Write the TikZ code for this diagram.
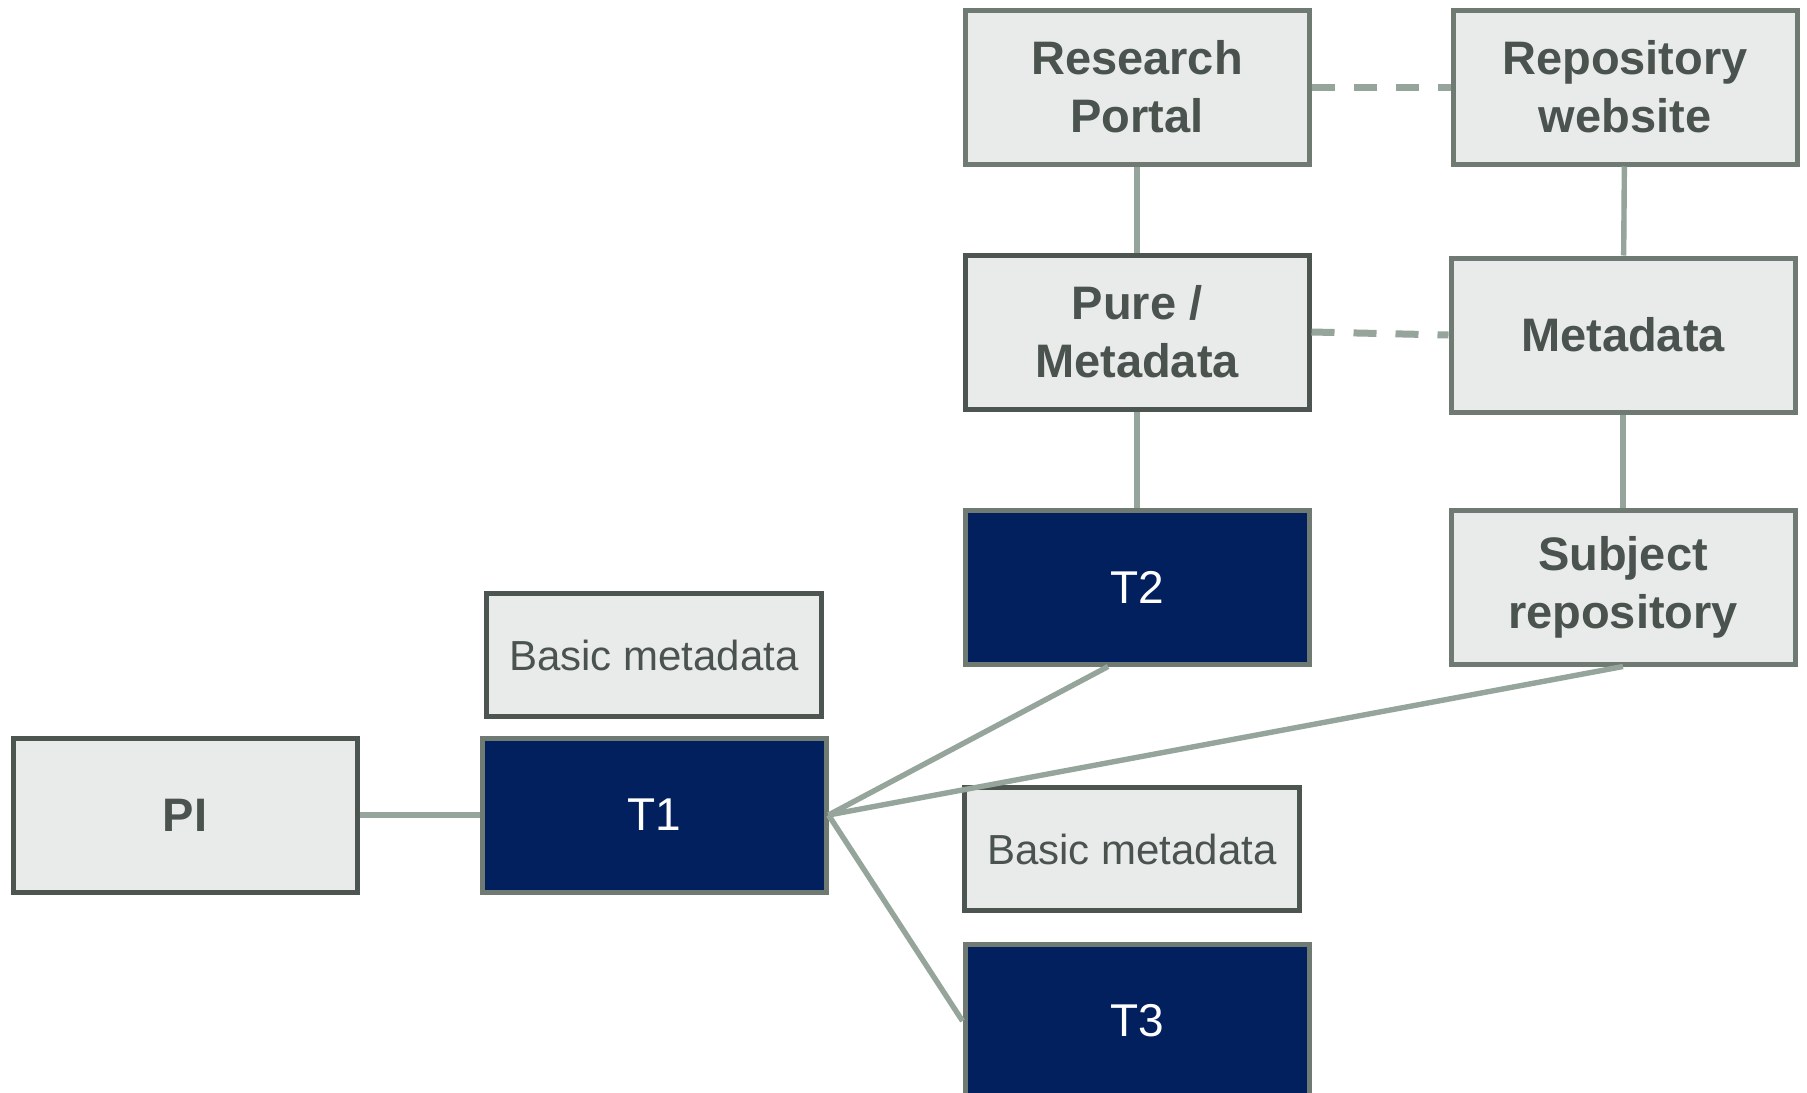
\documentclass[tikz,border=0pt]{standalone}
\usepackage{fontspec}
\setmainfont{Liberation Sans}
\usepackage{xcolor}
\usetikzlibrary{positioning}

\definecolor{boxfill}{HTML}{E9EBEA}
\definecolor{boxline}{HTML}{6E7A72}
\definecolor{boxdark}{HTML}{4C5550}
\definecolor{navy}{HTML}{02205E}
\definecolor{linkgrey}{HTML}{95A59B}
\definecolor{txtgrey}{HTML}{4A534E}

\begin{document}
\begin{tikzpicture}[
    x=0.5pt, y=-0.5pt,
    box/.style={
        draw=boxline, fill=boxfill, line width=2.5pt, text=txtgrey, align=center,
        minimum width=172pt, minimum height=77pt, inner sep=0pt,
        font=\bfseries\fontsize{23.5}{29}\selectfont
    },
    tbox/.style={box, fill=navy, text=white, font=\fontsize{23}{28}\selectfont},
    basicbox/.style={box, draw=boxdark, minimum width=167.5pt, minimum height=61.5pt,
        font=\fontsize{21}{25}\selectfont},
    link/.style={draw=linkgrey, line width=2.7pt},
    dashlink/.style={link, line width=3.5pt, dash pattern=on 11.5pt off 9.5pt}
]

% --- RAHMEN ---
\useasboundingbox (0,0) rectangle (1807,1092);
\clip (0,0) rectangle (1807,1092);

% --- OBERE REIHEN ---
\node[box] (portal) at (1137,87) {Research\\Portal};
\node[box] (website) at (1625,87) {Repository\\website};
\node[box, draw=boxdark] (pure) at (1137,332) {Pure /\\Metadata};
\node[box] (meta) at (1623,335) {Metadata};
\node[tbox] (t2) at (1137,587) {T2};
\node[box] (subject) at (1623,587) {Subject\\repository};

% --- UNTERE REIHEN ---
\node[basicbox] (basic1) at (654,655) {Basic metadata};
\node[box, draw=boxdark] (pi) at (185,815) {PI};
\node[tbox] (t1) at (654,815) {T1};
\node[basicbox] (basic2) at (1132,849) {Basic metadata};
\node[tbox] (t3) at (1137,1021) {T3};

% --- VERBINDUNGEN ---
\draw[link] (portal) -- (pure);
\draw[link] (pure) -- (t2);
\draw[link] (website) -- (meta);
\draw[link] (meta) -- (subject);
\draw[dashlink] (portal.east) -- (website.west);
\draw[dashlink] (pure.east) -- (meta.west);

\draw[link] (pi.east) -- (t1.west);
\draw[link] (t1.east) -- (t2.-110);
\draw[link] (t1.east) -- (subject.south);
\draw[link] (t1.east) -- (t3.west);
\end{tikzpicture}
\end{document}
